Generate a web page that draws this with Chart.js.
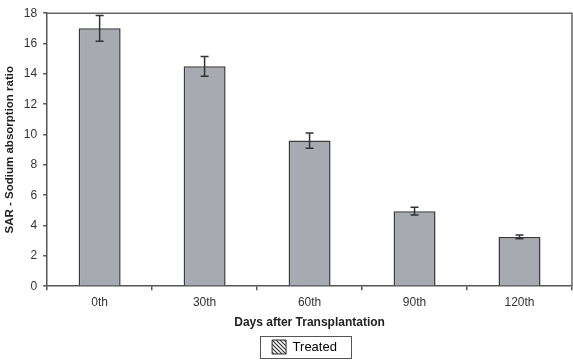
<!DOCTYPE html>
<html>
<head>
<meta charset="utf-8">
<script src="https://cdn.jsdelivr.net/npm/chart.js@4/dist/chart.umd.min.js"></script>
<style>
  html, body { margin: 0; padding: 0; background: #fff; }
  #wrap { width: 573px; height: 360px; }
</style>
</head>
<body>
<div id="wrap"><canvas id="grafico" width="573" height="360"></canvas></div>
<script>
const dias = ["0th", "30th", "60th", "90th", "120th"];
const sar = [17.0, 14.5, 9.6, 4.95, 3.25];
const erro = [0.85, 0.65, 0.5, 0.25, 0.12];
const yTicks = [0, 2, 4, 6, 8, 10, 12, 14, 16, 18];

// padrão hachurado para a legenda
function hachura() {
  const c = document.createElement("canvas");
  c.width = 4; c.height = 4;
  const g = c.getContext("2d");
  g.fillStyle = "#fff";
  g.fillRect(0, 0, 4, 4);
  g.strokeStyle = "#333";
  g.lineWidth = 1.2;
  g.beginPath();
  g.moveTo(0, 0); g.lineTo(4, 4);
  g.moveTo(-2, 2); g.lineTo(2, 6);
  g.moveTo(2, -2); g.lineTo(6, 2);
  g.stroke();
  return g.createPattern(c, "repeat");
}

// barras de erro + moldura do gráfico + caixa da legenda
const extras = {
  id: "extras",
  afterLayout(chart) {
    // centraliza a legenda sob a área do gráfico e desce um pouco
    chart.legend.left += 34;
    chart.legend.top += 7;
  },
  afterDatasetsDraw(chart) {
    const ctx = chart.ctx;
    const y = chart.scales.y;
    const meta = chart.getDatasetMeta(0);
    ctx.save();
    ctx.strokeStyle = "#333";
    ctx.lineWidth = 1.5;
    meta.data.forEach((bar, i) => {
      const top = y.getPixelForValue(sar[i] + erro[i]);
      const bot = y.getPixelForValue(sar[i] - erro[i]);
      ctx.beginPath();
      ctx.moveTo(bar.x, top); ctx.lineTo(bar.x, bot);
      ctx.moveTo(bar.x - 4, top); ctx.lineTo(bar.x + 4, top);
      ctx.moveTo(bar.x - 4, bot); ctx.lineTo(bar.x + 4, bot);
      ctx.stroke();
    });
    const a = chart.chartArea;
    ctx.strokeStyle = "#666";
    ctx.lineWidth = 1.5;
    ctx.beginPath();
    ctx.moveTo(a.left, a.top); ctx.lineTo(a.right, a.top); ctx.lineTo(a.right, a.bottom);
    ctx.stroke();
    ctx.restore();
  },
  afterDraw(chart) {
    const l = chart.legend;
    const ctx = chart.ctx;
    ctx.save();
    ctx.strokeStyle = "#555";
    ctx.lineWidth = 1;
    const w = 91, h = 22;
    const cx = (l.left + l.right) / 2;
    ctx.strokeRect(Math.round(cx - w / 2 + 1) + 0.5, Math.round(l.top - 1) + 0.5, w, h);
    ctx.restore();
  }
};

new Chart(document.getElementById("grafico"), {
  type: "bar",
  data: {
    labels: dias,
    datasets: [{
      label: "Treated",
      data: sar,
      backgroundColor: "#a8aab1",
      borderColor: "#3a3a3a",
      borderWidth: 1.5,
      categoryPercentage: 1,
      barPercentage: 0.4
    }]
  },
  options: {
    responsive: false,
    animation: false,
    layout: { padding: { left: 3, right: 1, top: 13, bottom: 3 } },
    plugins: {
      legend: {
        position: "bottom",
        labels: {
          color: "#333",
          font: { family: "Liberation Sans, Arial", size: 13 },
          boxWidth: 14, boxHeight: 14, padding: 3,
          generateLabels: () => [{
            text: "Treated", fillStyle: hachura(), strokeStyle: "#333", lineWidth: 1, datasetIndex: 0
          }]
        }
      },
      tooltip: { enabled: false }
    },
    scales: {
      x: {
        offset: true,
        grid: { offset: true, drawOnChartArea: false, tickLength: 4, color: "#555", lineWidth: 1.5 },
        border: { color: "#555", width: 1.5 },
        ticks: { color: "#333", font: { family: "Liberation Sans, Arial", size: 12 }, padding: 5 },
        title: {
          display: true, text: "Days after Transplantation", color: "#222",
          font: { family: "Liberation Sans, Arial", size: 12, weight: "bold" }, padding: { top: 1, bottom: 0 }
        }
      },
      y: {
        min: 0, max: 18,
        afterBuildTicks: ax => { ax.ticks = yTicks.map(v => ({ value: v })); },
        grid: { drawOnChartArea: false, tickLength: 4, color: "#555", lineWidth: 1.5 },
        border: { color: "#555", width: 1.5 },
        ticks: { color: "#333", font: { family: "Liberation Sans, Arial", size: 12 }, padding: 6 },
        title: {
          display: true, text: "SAR - Sodium absorption ratio", color: "#222",
          font: { family: "Liberation Sans, Arial", size: 11.5, weight: "bold" }, padding: { top: 0, bottom: 1 }
        }
      }
    }
  },
  plugins: [extras]
});
</script>
</body>
</html>
